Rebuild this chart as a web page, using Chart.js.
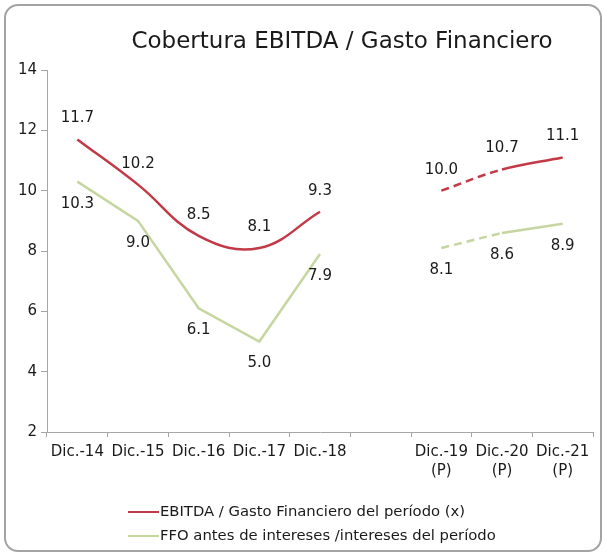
<!DOCTYPE html>
<html>
<head>
<meta charset="utf-8">
<script src="https://cdn.jsdelivr.net/npm/chart.js@4.4.0/dist/chart.umd.min.js"></script>
<style>
    body {
        margin: 0;
        background: #ffffff;
        overflow: hidden;
        font-family: 'DejaVu Sans', sans-serif;
        color: #1a1a1a;
    }
    #wrap {
        position: relative;
        width: 606px;
        height: 556px;
    }
    #frame {
        position: absolute;
        left: 4px;
        top: 4px;
        width: 594px;
        height: 544px;
        border: 2px solid #a3a3a3;
        border-radius: 14px;
    }
    #myChart {
        position: absolute;
        left: 0;
        top: 0;
    }
    #title {
        position: absolute;
        left: 342px;
        top: 29px;
        transform: translateX(-50%);
        white-space: nowrap;
        font-size: 23px;
        line-height: 22px;
    }
    .legendRow {
        position: absolute;
        left: 128px;
        height: 20px;
        line-height: 20px;
        font-size: 14.8px;
        white-space: nowrap;
    }
    .legendRow span {
        display: inline-block;
        width: 31px;
        height: 2px;
        vertical-align: middle;
        margin-right: 1px;
    }
</style>
</head>
<body>
<div id="wrap">
    <div id="frame"></div>
    <canvas id="myChart" width="606" height="556"></canvas>
    <div id="title">Cobertura EBITDA / Gasto Financiero</div>
    <div id="legend"></div>
</div>
<script>
'use strict'

let categories = [
    'Dic.-14',
    'Dic.-15',
    'Dic.-16',
    'Dic.-17',
    'Dic.-18',
    '',
    ['Dic.-19', '(P)'],
    ['Dic.-20', '(P)'],
    ['Dic.-21', '(P)']
];

let ebitdaValues = [11.7, 10.2, 8.5, 8.1, 9.3, null, 10.0, 10.7, 11.1];
let ffoValues = [10.3, 9.0, 6.1, 5.0, 7.9, null, 8.1, 8.6, 8.9];

let seriesNames = [
    'EBITDA / Gasto Financiero del período (x)',
    'FFO antes de intereses /intereses del período'
];
let seriesColors = ['#c23a47', '#c6d6a0'];

let yTicks = [2, 4, 6, 8, 10, 12, 14];

const firstProjected = 6;


// dashed line only between the first two projected years
function projectedDash(ctx) {
    if (ctx.p0DataIndex === firstProjected) {
        return [8, 5];
    }
    return undefined;
}

// draws the value next to every point, above or below the line
const valueLabels = {
    id: 'valueLabels',
    afterDatasetsDraw(chart) {
        let ctx = chart.ctx;
        ctx.save();
        ctx.font = '15px "DejaVu Sans"';
        ctx.fillStyle = '#1a1a1a';
        ctx.textAlign = 'center';
        ctx.textBaseline = 'middle';
        chart.data.datasets.forEach(function (ds, i) {
            let meta = chart.getDatasetMeta(i);
            meta.data.forEach(function (pt, j) {
                if (ds.data[j] === null) {
                    return;
                }
                ctx.fillText(ds.data[j].toFixed(1), pt.x, pt.y + ds.labelOffset);
            });
        });
        ctx.restore();
    }
};


let ctx = document.getElementById('myChart').getContext('2d');
let myChart = new Chart(ctx, {
    type: 'line',
    data: {
        labels: categories,
        datasets: [{
            label: seriesNames[0],
            data: ebitdaValues,
            borderColor: seriesColors[0],
            backgroundColor: seriesColors[0],
            borderWidth: 2.5,
            tension: 0.4,
            pointRadius: 0,
            spanGaps: false,
            labelOffset: -21,
            segment: {
                borderDash: projectedDash
            }
        }, {
            label: seriesNames[1],
            data: ffoValues,
            borderColor: seriesColors[1],
            backgroundColor: seriesColors[1],
            borderWidth: 2.5,
            tension: 0,
            pointRadius: 0,
            spanGaps: false,
            labelOffset: 22,
            segment: {
                borderDash: projectedDash
            }
        }]
    },
    options: {
        responsive: false,
        animation: false,
        devicePixelRatio: 1,
        layout: {
            padding: { top: 70, left: 0, right: 13, bottom: 74 }
        },
        plugins: {
            legend: { display: false },
            tooltip: { enabled: false }
        },
        scales: {
            x: {
                offset: true,
                grid: {
                    offset: true,
                    drawOnChartArea: false,
                    tickLength: 5,
                    color: '#a6a6a6'
                },
                border: { color: '#a6a6a6' },
                ticks: {
                    autoSkip: false,
                    maxRotation: 0,
                    padding: 5,
                    color: '#1a1a1a',
                    font: { family: 'DejaVu Sans', size: 15, lineHeight: 1.3 }
                },
                afterFit: function (scale) {
                    scale.height = 50;
                }
            },
            y: {
                min: yTicks[0],
                max: yTicks[yTicks.length - 1],
                afterBuildTicks: function (scale) {
                    scale.ticks = yTicks.map(function (v) { return { value: v }; });
                },
                grid: {
                    drawOnChartArea: false,
                    tickLength: 6,
                    color: '#a6a6a6'
                },
                border: { color: '#a6a6a6' },
                ticks: {
                    padding: 4,
                    color: '#1a1a1a',
                    font: { family: 'DejaVu Sans', size: 15 }
                },
                afterFit: function (scale) {
                    scale.width = 47;
                }
            }
        }
    },
    plugins: [valueLabels]
});


// legend rows under the chart
let legendBox = document.getElementById('legend');
for (let i = 0; i < seriesNames.length; i++) {
    let row = document.createElement('div');
    row.className = 'legendRow';
    row.style.top = (501 + i * 24) + 'px';
    let mark = document.createElement('span');
    mark.style.background = seriesColors[i];
    row.appendChild(mark);
    row.appendChild(document.createTextNode(seriesNames[i]));
    legendBox.appendChild(row);
}
</script>
</body>
</html>
